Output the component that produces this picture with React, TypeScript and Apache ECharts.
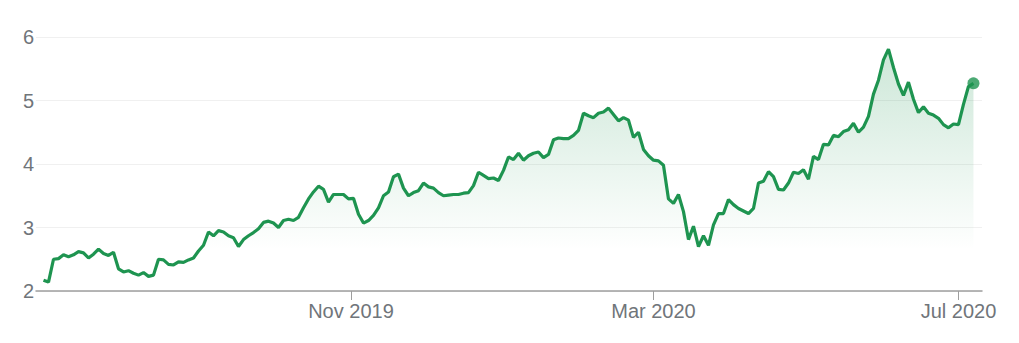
import React, { useEffect, useRef } from "react";
import * as echarts from "echarts";

// Price series sampled every 2 calendar days starting 1 Jul 2019
const startDate = [2019, 6, 1];
const stepDays = 2;
const prices = [
  2.17, 2.14, 2.5, 2.51, 2.57, 2.54, 2.57, 2.62, 2.6, 2.52,
  2.58, 2.66, 2.59, 2.56, 2.61, 2.35, 2.3, 2.32, 2.28, 2.25,
  2.29, 2.23, 2.25, 2.5, 2.49, 2.42, 2.41, 2.46, 2.45, 2.49,
  2.52, 2.63, 2.72, 2.93, 2.87, 2.95, 2.93, 2.87, 2.84, 2.7,
  2.81, 2.87, 2.92, 2.98, 3.08, 3.1, 3.07, 3.0, 3.11, 3.13,
  3.11, 3.16, 3.31, 3.45, 3.56, 3.65, 3.6, 3.4, 3.52, 3.52,
  3.52, 3.45, 3.46, 3.21, 3.07, 3.11, 3.19, 3.31, 3.5, 3.56,
  3.8, 3.84, 3.62, 3.5, 3.55, 3.58, 3.7, 3.64, 3.62, 3.55,
  3.5, 3.51, 3.52, 3.52, 3.54, 3.55, 3.66, 3.87, 3.82, 3.77,
  3.78, 3.74, 3.9, 4.11, 4.07, 4.17, 4.06, 4.13, 4.17, 4.19,
  4.1, 4.15, 4.38, 4.41, 4.4, 4.4, 4.45, 4.53, 4.8, 4.76,
  4.73, 4.8, 4.82, 4.88, 4.78, 4.68, 4.73, 4.69, 4.42, 4.5,
  4.23, 4.13, 4.06, 4.05, 3.98, 3.45, 3.38, 3.52, 3.25, 2.81,
  3.02, 2.7, 2.87, 2.72, 3.04, 3.22, 3.22, 3.44, 3.36, 3.3,
  3.26, 3.22, 3.3, 3.7, 3.73, 3.88, 3.8, 3.6, 3.59, 3.7,
  3.87, 3.85, 3.91, 3.76, 4.12, 4.07, 4.31, 4.3, 4.45, 4.43,
  4.51, 4.54, 4.64, 4.5, 4.58, 4.75, 5.1, 5.32, 5.64, 5.81,
  5.52, 5.26, 5.08, 5.29, 5.02, 4.81, 4.9, 4.8, 4.77, 4.72,
  4.62, 4.57, 4.63, 4.62, 4.94, 5.22, 5.27,
];

const xTickDates = [
  [2019, 10, 1],
  [2020, 2, 1],
  [2020, 6, 1],
];
const monthNames = ["Jan", "Feb", "Mar", "Apr", "May", "Jun", "Jul", "Aug", "Sep", "Oct", "Nov", "Dec"];
const yMin = 2;
const yMax = 6;
const yStep = 1;
const axisStart = [2019, 5, 28];
const axisEnd = [2020, 6, 10, 10];

const GREEN = "#1e9450";
const DAY = 86400000;

export default function App() {
  const ref = useRef<HTMLDivElement>(null);

  useEffect(() => {
    if (!ref.current) return;
    const chart = echarts.init(ref.current, null, { renderer: "svg" });
    const origin = Date.UTC(axisStart[0], axisStart[1], axisStart[2]);
    const dayOf = (a: number[]) => (Date.UTC(a[0], a[1], a[2], a[3] || 0) - origin) / DAY;
    const d0 = dayOf(startDate);
    const data = prices.map((v, i) => [d0 + i * stepDays, v]);
    const last = data[data.length - 1];
    const ticks = xTickDates.map((d) => dayOf(d));

    chart.setOption({
      animation: false,
      grid: { left: 36, right: 37, top: 37, bottom: 52 },
      xAxis: {
        type: "value",
        min: 0,
        max: dayOf(axisEnd),
        axisLine: { show: true, lineStyle: { color: "#9e9e9e", width: 1.5 } },
        axisTick: {
          show: true,
          length: 9,
          customValues: ticks,
          lineStyle: { color: "#9e9e9e", width: 1 },
        },
        axisLabel: {
          customValues: ticks,
          color: "#70757a",
          fontSize: 20,
          fontFamily: "Liberation Sans, Arial, sans-serif",
          margin: 10,
          formatter: (val: number) => {
            const d = new Date(origin + Math.round(val) * DAY);
            return monthNames[d.getUTCMonth()] + " " + d.getUTCFullYear();
          },
        },
        splitLine: { show: false },
      },
      yAxis: {
        type: "value",
        min: yMin,
        max: yMax,
        interval: yStep,
        axisLine: { show: false },
        axisTick: { show: false },
        axisLabel: {
          color: "#70757a",
          fontSize: 20,
          fontFamily: "Liberation Sans, Arial, sans-serif",
          margin: 2,
        },
        splitLine: { show: true, lineStyle: { color: "#f0f0f0", width: 1 } },
      },
      series: [
        {
          type: "line",
          data,
          showSymbol: false,
          symbol: "none",
          lineStyle: { color: GREEN, width: 3.2 },
          itemStyle: { color: GREEN },
          areaStyle: {
            color: new echarts.graphic.LinearGradient(
              0,
              37,
              0,
              250,
              [
                { offset: 0, color: "rgba(30,148,80,0.34)" },
                { offset: 1, color: "rgba(30,148,80,0)" },
              ],
              true
            ),
          },
          z: 2,
        },
        {
          type: "scatter",
          data: [last],
          symbol: "circle",
          symbolSize: 12,
          itemStyle: { color: GREEN },
          z: 3,
        },
      ],
    });
    return () => chart.dispose();
  }, []);

  return (
    <div
      ref={ref}
      style={{ position: "absolute", left: 0, top: 0, width: 1019, height: 343 }}
    />
  );
}
